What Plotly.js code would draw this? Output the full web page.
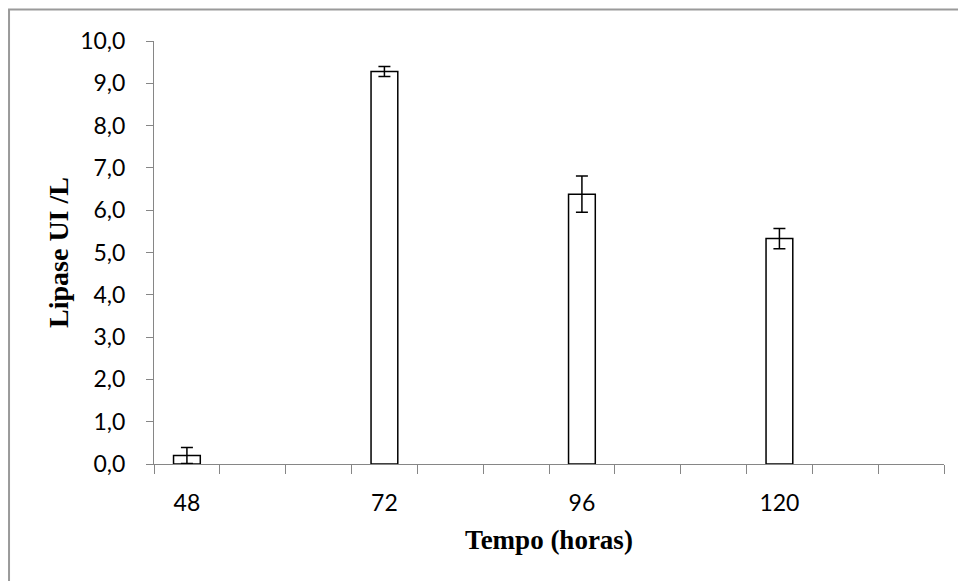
<!DOCTYPE html>
<html>
<head>
<meta charset="utf-8">
<script src="https://cdn.plot.ly/plotly-3.0.1.min.js"></script>
<style>html,body{margin:0;padding:0;background:#fff;}#chart{width:958px;height:581px;}</style>
</head>
<body>
<div id="chart"></div>
<script>
// Data
const hours = [48, 72, 96, 120];
const hourLabels = ["48", "72", "96", "120"];
const lipase = [0.20, 9.28, 6.38, 5.33];
const lipaseErr = [0.19, 0.12, 0.43, 0.24];

const trace = {
  type: 'bar',
  x: hours,
  y: lipase,
  width: 3.25,
  marker: {color: '#ffffff', line: {color: '#000000', width: 1.5}},
  error_y: {type: 'data', array: lipaseErr, visible: true, color: '#000000', thickness: 1.5, width: 6},
  hoverinfo: 'x+y'
};

const axisGrey = '#868686';
const layout = {
  width: 958, height: 581,
  margin: {l: 154, r: 14, t: 41, b: 117},
  paper_bgcolor: '#ffffff', plot_bgcolor: '#ffffff',
  separators: ',.',
  showlegend: false,
  xaxis: {
    range: [44, 140],
    tickvals: hours, ticktext: hourLabels,
    ticks: '',
    showline: true, linecolor: axisGrey, linewidth: 1,
    showgrid: false, zeroline: false,
    tickfont: {family: 'Lato, sans-serif', size: 23, color: '#000000'},
    ticklabelstandoff: 18,
    minor: {tick0: 44, dtick: 8, ticks: 'outside', ticklen: 9, tickcolor: axisGrey, tickwidth: 1, showgrid: false},
    title: {text: 'Tempo (horas)', font: {family: '"Liberation Serif", "Times New Roman", serif', size: 27, color: '#000000', weight: 'bold'}, standoff: 15},
    automargin: false
  },
  yaxis: {
    range: [0, 10], dtick: 1, tick0: 0,
    tickformat: '.1f',
    ticks: 'outside', ticklen: 7, tickcolor: axisGrey, tickwidth: 1,
    showline: true, linecolor: axisGrey, linewidth: 1,
    showgrid: false, zeroline: false,
    tickfont: {family: 'Lato, sans-serif', size: 23, color: '#000000'},
    ticklabelstandoff: 16,
    title: {text: 'Lipase UI /L', font: {family: '"Liberation Serif", "Times New Roman", serif', size: 28, color: '#000000', weight: 'bold'}, standoff: 3},
    automargin: false
  },
  shapes: [{
    type: 'rect', xref: 'paper', yref: 'paper',
    x0: -0.1835, x1: 1.2, y0: -0.5, y1: 1.0744,
    line: {color: '#9a9a9a', width: 2}, fillcolor: 'rgba(0,0,0,0)', layer: 'below'
  }]
};

Plotly.newPlot('chart', [trace], layout, {displayModeBar: false, staticPlot: true});
</script>
</body>
</html>
